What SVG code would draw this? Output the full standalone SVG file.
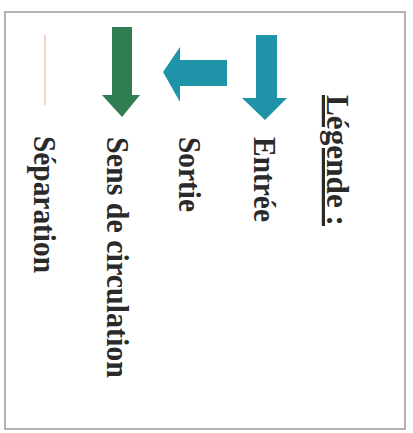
<svg xmlns="http://www.w3.org/2000/svg" width="413" height="433" viewBox="0 0 413 433">
<style>
.lbl{font-family:"Liberation Serif","Times New Roman",serif;font-weight:bold;font-size:32px;fill:#2a2a2a}
.teal{fill:#1f93a8}
.green{fill:#2f7d50}
</style>
<rect x="0" y="0" width="413" height="433" fill="#ffffff"/>
<g id="frame">
<rect x="5" y="12" width="400" height="417" fill="#ffffff" stroke="#9a9a9a" stroke-width="1.5"/>
</g>
<g id="title">
<text class="lbl" transform="translate(327,95) rotate(90)" textLength="131" lengthAdjust="spacingAndGlyphs" text-decoration="underline">Légende :</text>
</g>
<g id="entree">
<path class="teal" d="M256,35 L277,35 L277,98 L287,98 L265,120 L242,98 L256,98 Z"/>
<text class="lbl" transform="translate(254,137) rotate(90)" textLength="85" lengthAdjust="spacingAndGlyphs">Entrée</text>
</g>
<g id="sortie">
<path class="teal" d="M227,60 L227,86 L180,86 L180,102 L163,72 L180,47 L180,60 Z"/>
<text class="lbl" transform="translate(179,137) rotate(90)" textLength="75" lengthAdjust="spacingAndGlyphs">Sortie</text>
</g>
<g id="sens">
<path class="green" d="M112,27 L132,27 L132,95 L140,95 L122,117 L102,95 L112,95 Z"/>
<text class="lbl" transform="translate(107,137) rotate(90)" textLength="241" lengthAdjust="spacingAndGlyphs">Sens de circulation</text>
</g>
<g id="separation">
<line x1="45" y1="35" x2="45" y2="105" stroke="#f5c2b6" stroke-width="1.5"/>
<text class="lbl" transform="translate(34,136) rotate(90)" textLength="137" lengthAdjust="spacingAndGlyphs">Séparation</text>
</g>
</svg>
